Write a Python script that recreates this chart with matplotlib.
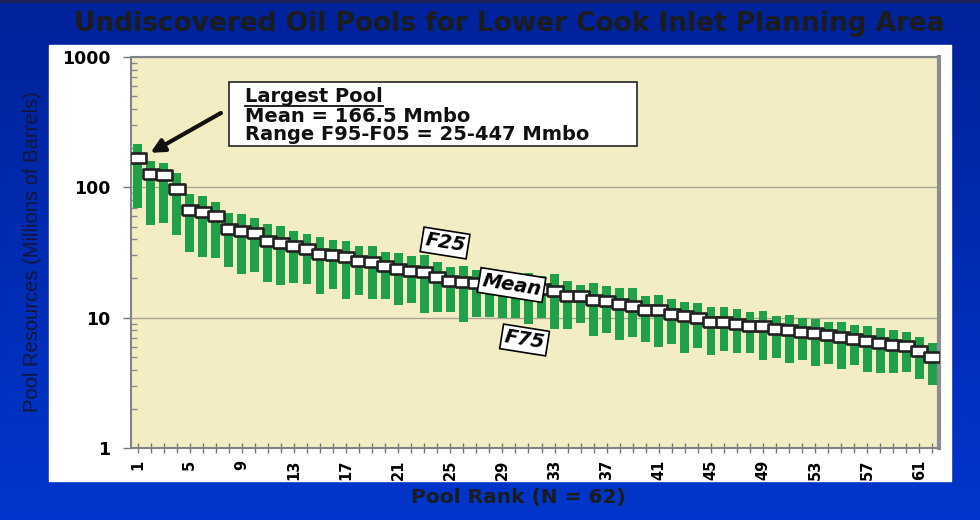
import numpy as np
import matplotlib
matplotlib.use('Agg')
import matplotlib.pyplot as plt
from matplotlib.patches import Rectangle
from matplotlib.lines import Line2D
from matplotlib.colors import LinearSegmentedColormap
from matplotlib.ticker import LogLocator, NullFormatter

# data (Mmbo)
ranks = np.arange(1, 63)
mean_vals = [166.5, 126, 124, 96.7, 66.7, 65.1, 60.0, 48.2, 46.3, 44.7,
             39.0, 37.2, 35.5, 33.7, 30.7, 30.3, 29.1, 27.2, 26.6, 24.8,
             23.6, 22.9, 22.3, 20.4, 19.2, 18.7, 18.3, 18.0, 17.7, 17.2,
             16.9, 16.5, 16.1, 14.7, 14.7, 13.7, 13.4, 12.7, 12.3, 11.5,
             11.5, 10.7, 10.3, 10.0, 9.31, 9.31, 8.95, 8.68, 8.64, 8.15,
             8.0, 7.81, 7.59, 7.33, 7.15, 6.86, 6.66, 6.43, 6.17, 6.10,
             5.58, 4.97]
f25_vals = [214, 160, 153, 128, 88.5, 85.9, 77.6, 63.3, 62.2, 58.5,
            52.1, 50.6, 46.5, 44.1, 41.4, 39.7, 38.8, 35.5, 35.5, 31.8,
            31.4, 29.9, 30.3, 26.9, 24.6, 24.9, 23.2, 22.5, 22.5, 21.9,
            21.9, 20.9, 21.6, 19.2, 17.8, 18.4, 17.5, 16.8, 16.8, 14.7,
            14.9, 13.8, 13.3, 13.0, 12.1, 12.0, 11.6, 11.1, 11.3, 10.3,
            10.5, 10.0, 9.77, 9.27, 9.31, 8.79, 8.64, 8.29, 8.04, 7.81,
            7.15, 6.43]
f75_vals = [69.2, 51.5, 53.6, 43.1, 31.8, 29.1, 28.6, 24.6, 21.5, 22.5,
            18.9, 17.8, 18.6, 18.1, 15.2, 16.5, 13.8, 14.9, 13.8, 13.9,
            12.5, 12.9, 10.8, 11.1, 11.1, 9.31, 10.2, 10.2, 9.9, 9.9,
            8.95, 9.9, 8.15, 8.15, 9.16, 7.24, 7.59, 6.74, 7.07, 6.54,
            5.93, 6.23, 5.39, 5.82, 5.17, 5.55, 5.39, 5.39, 4.74, 4.93,
            4.47, 4.74, 4.26, 4.41, 4.02, 4.34, 3.85, 3.78, 3.74, 3.85,
            3.37, 3.04]
y_ticks = [1, 10, 100, 1000]
y_ticklabels = ['1', '10', '100', '1000']
x_ticklabels = [str(r) if (r - 1) % 4 == 0 else '' for r in ranks]

title = 'Undiscovered Oil Pools for Lower Cook Inlet Planning Area'

plt.rcParams['font.family'] = 'DejaVu Sans'
W, H = 980.0, 520.0

fig = plt.figure(figsize=(9.8, 5.2), dpi=100)

# blue gradient background
bg = fig.add_axes([0, 0, 1, 1], zorder=-10)
grad = np.linspace(0, 1, 256).reshape(-1, 1)
cmap = LinearSegmentedColormap.from_list('bg', ['#00229a', '#0036cc'])
bg.imshow(grad, aspect='auto', cmap=cmap, extent=[0, 1, 0, 1], origin='upper')
bg.add_patch(Rectangle((0, 1 - 2 / H), 1, 2 / H, color='#1b2256'))
bg.add_patch(Rectangle((49 / W, 1 - 481 / H), 902 / W, 436 / H, color='white'))
bg.set_xlim(0, 1)
bg.set_ylim(0, 1)
bg.axis('off')

ax = fig.add_axes([131 / W, 72 / H, 808 / W, 391 / H])
ax.set_facecolor('#f3edc3')
ax.set_yscale('log')
ax.set_ylim(1, 1000)
ax.set_xlim(0.5, 62.5)

ax.bar(ranks, np.array(f25_vals) - np.array(f75_vals), bottom=f75_vals,
       width=0.68, color='#20a048', zorder=2)

box = [(-1, -0.62), (1, -0.62), (1, 0.62), (-1, 0.62), (-1, -0.62)]
ax.plot(ranks, mean_vals, linestyle='none', marker=box, markersize=11.5,
        mfc='white', mec='#222222', mew=1.9, zorder=3)

ax.yaxis.grid(True, which='major', color='#a8a596', lw=1)
ax.set_axisbelow(True)

ax.set_xticks(ranks, labels=x_ticklabels)
ax.tick_params(axis='x', direction='inout', length=6.5, width=1, color='#777777',
               rotation=90, pad=5, labelsize=10.5)
for lab in ax.get_xticklabels():
    lab.set_fontweight('bold')

ax.set_yticks(y_ticks, labels=y_ticklabels)
ax.yaxis.set_minor_locator(LogLocator(base=10, subs=np.arange(2, 10)))
ax.yaxis.set_minor_formatter(NullFormatter())
ax.tick_params(axis='y', which='major', direction='out', length=6, width=1,
               color='#777777', pad=9, labelsize=12.5)
ax.tick_params(axis='y', which='minor', direction='in', length=4, width=1,
               color='#888888')
for lab in ax.get_yticklabels():
    lab.set_fontweight('bold')

for side in ['left', 'top', 'bottom']:
    ax.spines[side].set_color('#808488')
    ax.spines[side].set_linewidth(1.5)
ax.spines['right'].set_color('#8a8e92')
ax.spines['right'].set_linewidth(3)

# series labels
lab_box = dict(boxstyle='square,pad=0.15', fc='white', ec='black', lw=1.2)
ax.text(24.6, 37.4, 'F25', rotation=-9, ha='center', va='center', fontsize=14,
        fontweight='bold', fontstyle='italic', bbox=lab_box, zorder=5)
ax.text(29.7, 17.8, 'Mean', rotation=-9, ha='center', va='center', fontsize=14,
        fontweight='bold', fontstyle='italic', bbox=lab_box, zorder=5)
ax.text(30.7, 6.74, 'F75', rotation=-9, ha='center', va='center', fontsize=14,
        fontweight='bold', fontstyle='italic', bbox=lab_box, zorder=5)

# arrow to largest pool
ax.annotate('', xy=(2.0, 184), xytext=(7.4, 372),
            arrowprops=dict(arrowstyle='-|>', lw=3, color='#111111',
                            mutation_scale=20, shrinkA=0, shrinkB=0), zorder=6)

# callout box
ax.add_patch(Rectangle((229 / W, 1 - 146 / H), 408 / W, 64 / H,
                       transform=fig.transFigure, fc='white', ec='#222222',
                       lw=1.2, clip_on=False, zorder=6))
t1 = fig.text(245 / W, 1 - 97 / H, 'Largest Pool', va='center', fontsize=14,
              fontweight='bold', color='#111111', zorder=7)
fig.text(245 / W, 1 - 116 / H, 'Mean = 166.5 Mmbo', va='center', fontsize=14,
         fontweight='bold', color='#111111', zorder=7)
fig.text(245 / W, 1 - 135 / H, 'Range F95-F05 = 25-447 Mmbo', va='center',
         fontsize=14, fontweight='bold', color='#111111', zorder=7)

fig.canvas.draw()
bb = t1.get_window_extent(fig.canvas.get_renderer())
fig.add_artist(Line2D([bb.x0 / W, bb.x1 / W], [(bb.y0 + 1) / H, (bb.y0 + 1) / H],
                      color='#111111', lw=1.3, zorder=8))

# titles
fig.text(0.52, 1 - 24 / H, title, ha='center', va='center', fontsize=19,
         fontweight='bold', color='#1c1c1c')
fig.text(518 / W, 1 - 497 / H, 'Pool Rank (N = 62)', ha='center', va='center',
         fontsize=14.5, fontweight='bold', color='#1c1c1c')
fig.text(33 / W, 1 - 252 / H, 'Pool Resources (Millions of Barrels)', rotation=90,
         ha='center', va='center', fontsize=14.5, color='#15153a',
         family='Liberation Sans')

plt.savefig('out.png', dpi=100)
